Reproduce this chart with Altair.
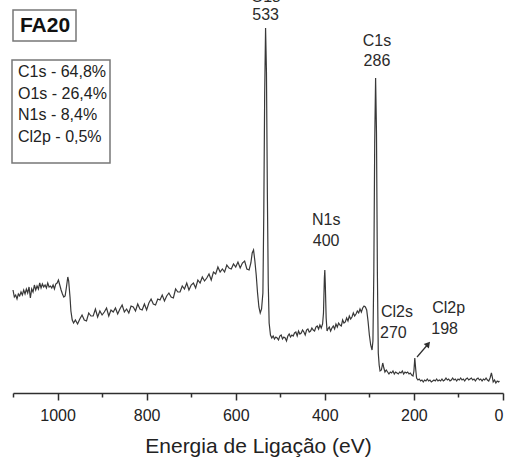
import altair as alt
import pandas as pd

# XPS survey spectrum of sample FA20: binding energy (eV) and intensity (a.u.)
be_high = [1100, 1097, 1094, 1091, 1088, 1085, 1082, 1079, 1076, 1073, 1070, 1067, 1064, 1061,
           1058, 1055, 1052, 1049, 1046, 1043, 1040, 1037, 1034, 1031, 1028, 1025, 1022, 1019,
           1016, 1013, 1010, 1007, 1004, 1001, 998, 995, 992, 989, 986, 983, 980, 977, 975, 972,
           970, 967, 964]
int_high = [103, 96, 98, 94, 99, 97, 101, 98, 103, 99, 104, 100, 106, 95,
            104, 101, 108, 103, 107, 104, 110, 105, 109, 106, 108, 105, 110, 106,
            107, 105, 108, 104, 109, 110, 113, 108, 103, 99, 96, 97, 106, 116, 112, 96,
            82, 73, 70]

be_o_region = [960, 955, 950, 945, 940, 935, 930, 925, 920, 915,
               910, 905, 900, 895, 890, 885, 880, 875, 870, 865,
               860, 855, 850, 845, 840, 835, 830, 825, 820, 815,
               810, 805, 800, 795, 790, 785, 780, 775, 770, 765,
               760, 755, 750, 745, 740, 735, 730, 725, 720, 715,
               710, 705, 700, 695, 690, 685, 680, 675, 670, 665,
               660, 655, 650, 645, 640, 635, 630, 625, 620, 615,
               610, 605, 600, 595, 590, 585, 580, 575, 570,
               566, 563, 560, 557, 554, 551, 548, 545, 542, 539,
               537, 535, 533, 531, 529, 527, 525, 522, 519]
int_o_region = [73, 69, 74, 78, 73, 72, 80, 77, 77, 84,
                76, 82, 78, 81, 85, 77, 83, 81, 85, 79,
                84, 88, 81, 84, 80, 87, 86, 82, 89, 84,
                83, 89, 83, 90, 94, 89, 88, 94, 93, 98,
                92, 97, 100, 96, 95, 104, 101, 101, 107, 104,
                110, 103, 108, 110, 105, 113, 110, 116, 112, 115,
                119, 113, 121, 119, 126, 121, 124, 121, 128, 125,
                124, 129, 126, 131, 125, 130, 132, 124, 123,
                130, 140, 143, 132, 118, 100, 86, 80, 84, 100,
                180, 300, 365, 320, 200, 110, 70, 58, 55]

be_n_region = [516, 513, 510, 507, 504, 501, 498, 495, 492, 489,
               486, 483, 480, 477, 474, 471, 468, 465, 462, 459,
               456, 453, 450, 447, 444, 441, 438, 435, 432, 429,
               426, 423, 420, 417, 414, 411, 408, 405,
               403, 401, 400, 399, 397, 395, 393]
int_n_region = [57, 54, 56, 55, 53, 57, 58, 54, 56, 55,
                52, 57, 59, 56, 58, 57, 60, 61, 57, 62,
                59, 60, 63, 61, 58, 63, 64, 61, 62, 65,
                63, 62, 66, 67, 64, 68, 65, 69,
                80, 115, 123, 110, 75, 62, 64]

be_c_region = [390, 387, 384, 381, 378, 375, 372, 369, 366, 363,
               360, 357, 354, 351, 348, 345, 342, 339, 336, 333,
               330, 327, 324, 321, 318, 315, 312, 309,
               306, 303, 300, 297, 294, 292, 290, 288, 286, 284,
               282, 280, 278, 276, 273, 270, 268, 265, 262]
int_c_region = [66, 62, 65, 67, 64, 69, 66, 70, 68, 67,
                73, 70, 71, 75, 72, 77, 74, 76, 80, 77,
                79, 82, 80, 84, 81, 85, 87, 86,
                83, 72, 58, 48, 43, 52, 120, 250, 315, 260,
                120, 40, 28, 22, 23, 30, 26, 21, 23]

be_cl_region = [259, 256, 253, 250, 247, 244, 241, 238, 235, 232,
                229, 226, 223, 220, 217, 214, 211, 208, 205, 202,
                200, 198, 196, 194, 191]
int_cl_region = [21, 19, 21, 20, 22, 19, 21, 20, 19, 21,
                 20, 22, 19, 21, 20, 21, 19, 20, 18, 17,
                 22, 35, 24, 15, 13]

be_low = [188, 185, 182, 179, 176, 173, 170, 167, 164, 161,
          158, 155, 152, 149, 146, 143, 140, 137, 134, 131,
          128, 125, 122, 119, 116, 113, 110, 107, 104, 101,
          98, 95, 92, 89, 86, 83, 80, 77, 74, 71,
          68, 65, 62, 59, 56, 53, 50, 47, 44, 41,
          38, 35, 32, 29, 26, 24, 22, 19, 16, 13, 10, 8]
int_low = [14, 12, 13, 11, 13, 12, 14, 12, 13, 11,
           12, 13, 12, 14, 12, 13, 12, 14, 12, 13,
           15, 13, 14, 12, 13, 15, 13, 14, 12, 14,
           13, 15, 13, 14, 12, 14, 15, 13, 14, 15,
           13, 14, 12, 14, 15, 13, 14, 12, 14, 13,
           15, 13, 12, 15, 20, 16, 11, 13, 10, 12, 11, 12]

# peak assignments
peak_names = ["O1s", "C1s", "N1s", "Cl2s", "Cl2p"]
peak_be = [533, 286, 400, 270, 198]

# atomic composition
composition = ["C1s - 64,8%", "O1s - 26,4%", "N1s - 8,4%", "Cl2p - 0,5%"]
sample_name = "FA20"

major_ticks = [0, 200, 400, 600, 800, 1000]
minor_ticks = [100, 300, 500, 700, 900, 1100]

be = be_high + be_o_region + be_n_region + be_c_region + be_cl_region + be_low
intensity = int_high + int_o_region + int_n_region + int_c_region + int_cl_region + int_low
spectrum = pd.DataFrame({"be": be, "intensity": intensity})

FONT = "Liberation Sans"
INK = "#2e2e2e"

x_scale = alt.Scale(domain=[0, 1100], reverse=True, nice=False, zero=False)
y_scale = alt.Scale(domain=[0, 393], nice=False)

major_axis = alt.Axis(
    values=major_ticks, orient="bottom", grid=False, format="d",
    title="Energia de Ligação (eV)", titleFont=FONT, titleFontSize=21,
    titleFontWeight="normal", titleColor="#222", titlePadding=12,
    labelFont=FONT, labelFontSize=16, labelColor="#222", labelPadding=7,
    tickSize=7, tickWidth=1.5, tickColor=INK, domainColor=INK, domainWidth=1.5,
)
minor_axis = alt.Axis(
    values=minor_ticks, orient="bottom", grid=False, labels=False, title=None,
    domain=False, tickSize=4, tickWidth=1.5, tickColor=INK,
)

line = alt.Chart(spectrum).mark_line(color="#383838", strokeWidth=1.2).encode(
    x=alt.X("be:Q", scale=x_scale, axis=major_axis),
    y=alt.Y("intensity:Q", scale=y_scale, axis=None),
)

minor = alt.Chart(spectrum).mark_line(strokeOpacity=0).encode(
    x=alt.X("be:Q", scale=x_scale, axis=minor_axis),
    y=alt.Y("intensity:Q", scale=y_scale, axis=None),
)

# peak labels: name above, binding energy below
label_rows = []
name_pos = {"O1s": (533, 396), "C1s": (283, 352), "N1s": (397, 173),
            "Cl2s": (274, 81), "Cl2p": (159, 85)}
value_pos = {"O1s": (533, 378), "C1s": (283, 332), "N1s": (397, 152),
             "Cl2s": (276, 60), "Cl2p": (161, 64)}
for name, pbe in zip(peak_names, peak_be):
    side = "left" if name.startswith("Cl") else "center"
    nb, ni = name_pos[name]
    vb, vi = value_pos[name]
    label_rows.append({"be": nb, "intensity": ni, "text": name, "side": side})
    label_rows.append({"be": vb, "intensity": vi, "text": str(pbe), "side": side})
labels = pd.DataFrame(label_rows)

text_style = dict(font=FONT, fontSize=16, color="#2a2a2a", baseline="middle")
labels_center = alt.Chart(labels).transform_filter(
    alt.datum.side == "center"
).mark_text(align="center", **text_style).encode(
    x=alt.X("be:Q", scale=x_scale, axis=None),
    y=alt.Y("intensity:Q", scale=y_scale, axis=None), text="text:N"
)
labels_left = alt.Chart(labels).transform_filter(
    alt.datum.side == "left"
).mark_text(align="left", **text_style).encode(
    x=alt.X("be:Q", scale=x_scale, axis=None),
    y=alt.Y("intensity:Q", scale=y_scale, axis=None), text="text:N"
)

# arrow pointing at the small Cl2p peak
arrow = pd.DataFrame({"be": [193], "intensity": [36], "be2": [168], "intensity2": [49]})
arrow_line = alt.Chart(arrow).mark_rule(color=INK, strokeWidth=1.2).encode(
    x=alt.X("be:Q", scale=x_scale, axis=None),
    y=alt.Y("intensity:Q", scale=y_scale, axis=None),
    x2="be2:Q", y2="intensity2:Q",
)
arrow_head = alt.Chart(arrow).mark_point(
    shape="triangle-up", filled=True, color=INK, size=45, angle=40, opacity=1
).encode(
    x=alt.X("be2:Q", scale=x_scale, axis=None),
    y=alt.Y("intensity2:Q", scale=y_scale, axis=None),
)

# sample name box and composition box (pixel positions inside the plot area)
one = pd.DataFrame({"k": [0]})
name_box = alt.Chart(one).mark_rect(fill="white", stroke="#777777", strokeWidth=1.5).encode(
    x=alt.value(0), x2=alt.value(63), y=alt.value(10), y2=alt.value(41)
)
name_text = alt.Chart(one).mark_text(
    font=FONT, fontSize=21, fontWeight="bold", color="#111", align="center", baseline="middle",
    text=sample_name,
).encode(x=alt.value(32), y=alt.value(26))

comp_box = alt.Chart(one).mark_rect(fill="white", stroke="#777777", strokeWidth=1.5).encode(
    x=alt.value(-1), x2=alt.value(97), y=alt.value(60), y2=alt.value(163)
)
comp_text = alt.Chart(one).mark_text(
    font=FONT, fontSize=16, color="#222", align="left", baseline="top",
    lineBreak="\n", lineHeight=21.7, text="\n".join(composition),
).encode(x=alt.value(5), y=alt.value(64))

chart = alt.layer(
    minor, line, labels_center, labels_left, arrow_line, arrow_head,
    name_box, name_text, comp_box, comp_text,
).resolve_axis(x="independent").properties(
    width=490, height=393,
    autosize=alt.AutoSizeParams(type="none"),
    padding={"left": 13, "top": 0, "right": 8, "bottom": 71},
    background="white",
).configure_view(stroke=None)

chart.save("out.html", embed_options={"renderer": "svg", "actions": False})
